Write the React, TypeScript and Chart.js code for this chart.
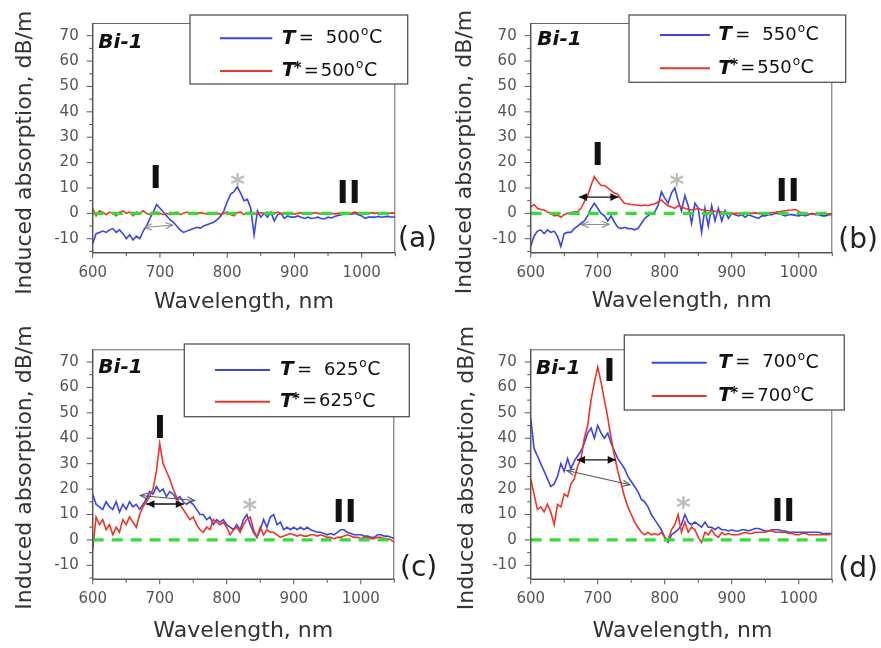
import React, { useEffect, useRef } from 'react';
import { Chart, registerables } from 'chart.js';

Chart.register(...registerables);

const FONT = "'DejaVu Sans', 'Liberation Sans', sans-serif";

// ---------------- DATA ----------------
const wavelengths = [
  600, 605, 610, 615, 620, 625, 630, 635, 640, 645,
  650, 655, 660, 665, 670, 675, 680, 685, 690, 695,
  700, 705, 710, 715, 720, 725, 730, 735, 740, 745,
  750, 755, 760, 765, 770, 775, 780, 785, 790, 795,
  800, 805, 810, 815, 820, 825, 830, 835, 840, 845,
  850, 855, 860, 865, 870, 875, 880, 885, 890, 895,
  900, 905, 910, 915, 920, 925, 930, 935, 940, 945,
  950, 955, 960, 965, 970, 975, 980, 985, 990, 995,
  1000, 1005, 1010, 1015, 1020, 1025, 1030, 1035, 1040, 1045,
  1050,
];

// (a) 500 °C
const panelA_T = [
  -12, -8, -7.5, -7, -7.5, -6.5, -6, -7.5, -6.5, -8,
  -10, -8.5, -10.5, -9, -10, -7, -5, -2, 0.5, 3.5,
  2, 0.5, -1, -2.5, -3.5, -5, -6.5, -7.5, -7, -6.5,
  -6, -5.5, -5.8, -5, -4.5, -4, -3.5, -2.5, -1.2, 1,
  4.5, 7.5, 8.5, 10.5, 8, 5, 5.5, 2, -8.5, 1,
  -1.5, 0, -1.5, 0.5, -3, -0.5, 0, -2, -1, -1.5,
  -1.5, -1, -1.5, -2, -1.5, -2, -1.8, -1.5, -2, -2.2,
  -1.5, -1.8, -1.2, -0.8, -0.5, -0.3, 0, -0.3, 0, -0.5,
  -1, -2, -1.5, -1.5, -1.5, -1.2, -1.5, -1.3, -1.2, -1.5,
  -1.3,
];
const panelA_Tstar = [
  2, -1, 1, 0.5, -0.5, 0.5, 0, -1, 0.5, 1,
  0, 0.5, -1, 0.5, 0, 1, 0, -0.5, 0, 0.5,
  0, -0.5, 0, -0.5, 0, 0.5, -0.5, 0, 0.5, 0,
  -0.3, 0, 0.3, 0, -0.2, 0, 0.3, 0, -0.3, 0,
  0.5, -0.5, -1, 0.3, 0.5, -0.5, 0, 0.5, 0, -0.5,
  0.3, 0, 0.5, -0.3, 0, 0.5, 0, -0.3, 0.3, 0,
  -0.3, 0, 0.3, 0, -0.2, 0, 0.3, 0, -0.3, 0,
  0.2, 0, -0.2, 0, 0.2, 0, -0.2, 0, 0.5, 0,
  -0.3, 0.3, 0, 0.3, 0, 0.2, 0, 0.2, 0, 0.2,
  0,
];

// (b) 550 °C
const panelB_T = [
  -13, -9, -7, -6.5, -8, -6.5, -7.5, -7, -9, -13,
  -8, -7.5, -7.5, -6, -5, -4, -3, -1, 2, 4,
  2, 0, -1, -3, -1, -3.5, -5.5, -6, -5.5, -6,
  -6, -6.5, -6, -4, -2, -1, 0, 0.5, 3, 8.5,
  6, 4, 8, 10, 5, 1, 7, 3, -4, 4,
  2, -7.5, 2, -5, 3, -3, 2, -3, 1, -2,
  0, -0.5, -1, -0.5, -1.5, -0.5, -1, -1.5, -2, -1,
  -1, -0.5, -0.5, 0, 0, -0.5, -1, -0.5, -0.5, -0.8,
  -1, -0.5, -1, -0.5, 0, -0.5, -0.5, -1, -1, -0.5,
  -0.5,
];
const panelB_Tstar = [
  2.5, 3.5, 2, 1.5, 1.3, 0.5, 0, -1, -0.7, -1.5,
  -0.5, 0, 0.3, 0.5, 0.7, 2, 4.5, 7, 11, 14.5,
  12.5, 11, 11, 10, 9, 8, 7.5, 5.5, 4, 3.8,
  3.5, 3.3, 3.3, 3, 3.3, 3, 3.5, 3.8, 4.5, 5.3,
  4, 3, 2.5, 2, 3, 2.5, 2, 1.5, 1.3, 1.5,
  2, 1.3, 1.3, 1, 1, 0.8, 0.6, 0.5, 0.4, 0.2,
  0, 0, 0, -0.2, 0, 0, 0, 0.2, 0, 0,
  0, 0.2, 0.3, 0.4, 0.6, 0.8, 1, 1.2, 1.3, 1.5,
  0.8, 0, -0.4, -0.3, -0.3, -0.3, -0.2, -0.3, -0.3, -0.2,
  -0.3,
];

// (c) 625 °C
const panelC_T = [
  18, 14, 13, 12, 15, 13, 12, 15, 11, 14,
  12, 15, 13, 14, 12, 14, 16, 19, 18, 21,
  19, 20, 17, 19, 18, 16, 17, 15, 14, 15,
  14, 12, 10, 10, 8, 9, 6, 8, 7, 8,
  6, 5, 4, 6, 4, 8, 10, 6, 3, 1,
  4, 8, 5, 9, 10, 6, 7, 4, 5, 4,
  5, 4, 5, 4, 5, 4, 3.5, 3, 3, 2.5,
  2, 2.5, 2, 3, 4, 4, 3, 2.5, 2, 2,
  2, 1.5, 1.5, 1, 1, 2, 2, 1.5, 1.5, 1,
  0.5,
];
const panelC_Tstar = [
  -4, 9, 6, 8, 4, 6, 2, 5, 3, 8,
  6, 9, 7, 5, 10, 13, 15, 17, 20, 27,
  38, 30, 27, 24, 20, 17, 14, 12, 10, 8,
  9, 6, 4, 3, 5, 4, 8, 7, 6, 7,
  5, 2, 4, 5, 3, 6, 8, 9, 4, 1,
  5, 2, 4, 3, 3, 2, 1, 1.5, 2, 2.5,
  2, 1.5, 2, 1.5, 1.5, 2, 2, 1.5, 2, 1.5,
  1, 1, 0.5, 1, 1, 1.5, 2, 1.5, 1, 1,
  0.5, 1, 1, 0.5, 0.5, 1, 1, 0.5, 0.5, 0,
  -1,
];

// (d) 700 °C
const panelD_T = [
  48, 36, 33, 30, 27, 24, 21, 22, 25, 30,
  27, 32, 28, 31, 33, 35, 38, 42, 44, 40,
  45, 42, 40, 42, 38, 35, 32, 30, 28, 25,
  23, 21, 19, 16, 15, 13, 10, 8, 6, 4,
  1, -1, 2, 3, 4, 6, 10, 7, 6, 7,
  6, 5, 7, 5, 5, 4, 5, 4, 4, 3.5,
  4, 3.5, 3.5, 4, 4, 3.5, 4, 4.5, 4.5, 4,
  3.5, 3.5, 4, 4, 4, 3.5, 3.5, 3, 3, 3,
  3, 3, 3, 3, 3, 3, 3, 2.5, 2.5, 2.5,
  2.5,
];
const panelD_Tstar = [
  24, 18, 12, 13, 11, 14, 11, 6, 14, 13,
  18, 17, 22, 24, 29, 32, 40, 45, 55, 62,
  68, 62, 55, 48, 40, 33, 27, 22, 17, 13,
  10, 7, 5, 3, 2, 3, 2, 2.5, 2, 3,
  1, 0, 4, 6, 10, 3, 7, 3, 5, 4,
  1, -1, 3, 2, 4, 2, 1, 3, 2, 2.5,
  2, 2, 2, 2.5, 3, 2.5, 2.5, 3, 3, 3,
  3, 3.5, 3.5, 3, 3, 3, 3, 2.5, 2.5, 2,
  2, 2.5, 2.5, 2, 2, 2, 2, 2, 2, 2,
  2.5,
];

const zeroLineX = [600, 1050];
const zeroLineY = [0, 0];

const temperatures = ['500', '550', '625', '700'];
const panelLetters = ['(a)', '(b)', '(c)', '(d)'];
const sampleName = 'Bi-1';
const xTitle = 'Wavelength, nm';
const yTitle = 'Induced absorption, dB/m';
const xTickLabels = [600, 700, 800, 900, 1000];
const yTickLabels = [-10, 0, 10, 20, 30, 40, 50, 60, 70];

// FWHM arrows [x1, y1, x2, y2, kind]
const arrowsA = [[677, -5.6, 719, -4.6, 'gray']];
const arrowsB = [[672, 6.4, 731, 6.4, 'black'], [676, -4.5, 717, -4.3, 'gray']];
const arrowsC = [[680, 14.1, 736, 14.1, 'black'], [671, 17.5, 752, 15.5, 'dark']];
const arrowsD = [[669, 31.5, 727, 31.5, 'black'], [654, 27.3, 748, 21.7, 'dark']];

// ---------------- STYLE / LAYOUT ----------------
const BLUE = '#3a45e8';
const RED = '#ec3526';
const GREEN = '#33dd33';

const layouts = [
  {
    left: 0, top: 0, w: 440, h: 320, area: [92.7, 22.7, 395.3, 252.7],
    legendBox: [190, 15, 407.7, 84], legendLine: [220, 272.3], legendRows: [38.3, 71], legendTextX: 281.7,
    bi: [98.3, 43], I: [155.8, 178.4], II: [348.7, 193.3], star: [237.5, 177.5], letter: [398, 240],
    xTitle: [244, 302], yTitle: [25.5, 152.7],
  },
  {
    left: 440, top: 0, w: 441, h: 320, area: [90.7, 22.7, 392.3, 252.7],
    legendBox: [189, 15, 405.7, 82.3], legendLine: [220, 270], legendRows: [35, 68.3], legendTextX: 278.3,
    bi: [97.3, 40], I: [157.8, 155.8], II: [347.7, 191.7], star: [236.7, 177.5], letter: [398.3, 240.8],
    xTitle: [241.7, 300.8], yTitle: [25.5, 152],
  },
  {
    left: 0, top: 320, w: 440, h: 328, area: [92.7, 29.3, 394.3, 259.3],
    legendBox: [184.3, 24, 409.3, 96.7], legendLine: [215, 270], legendRows: [50, 81.7], legendTextX: 280,
    bi: [98.3, 47.5], I: [160, 108.3], II: [344.7, 192.5], star: [249.7, 182.5], letter: [400, 249],
    xTitle: [243.3, 310.8], yTitle: [25, 147.5],
  },
  {
    left: 440, top: 320, w: 441, h: 328, area: [90.7, 29.3, 392.3, 259.3],
    legendBox: [184.3, 15, 404.3, 90], legendLine: [211.7, 266.7], legendRows: [42.7, 76], legendTextX: 278.3,
    bi: [96, 48.3], I: [169.5, 51.7], II: [343.3, 191.7], star: [243.3, 180.8], letter: [398.3, 250],
    xTitle: [242.5, 310.8], yTitle: [27, 148],
  },
];

const panelData = [
  { blue: panelA_T, red: panelA_Tstar, arrows: arrowsA },
  { blue: panelB_T, red: panelB_Tstar, arrows: arrowsB },
  { blue: panelC_T, red: panelC_Tstar, arrows: arrowsC },
  { blue: panelD_T, red: panelD_Tstar, arrows: arrowsD },
];

function drawArrow(ctx: CanvasRenderingContext2D, x1: number, y1: number, x2: number, y2: number, kind: string) {
  const color = kind === 'black' ? '#111' : kind === 'dark' ? '#555' : '#8a8a8a';
  ctx.save();
  ctx.strokeStyle = color;
  ctx.fillStyle = color;
  ctx.lineWidth = kind === 'black' ? 1.4 : 1.1;
  ctx.beginPath();
  ctx.moveTo(x1, y1);
  ctx.lineTo(x2, y2);
  ctx.stroke();
  const ang = Math.atan2(y2 - y1, x2 - x1);
  const head = (x: number, y: number, a: number) => {
    const len = kind === 'black' ? 9 : 8;
    const spread = kind === 'black' ? 0.45 : 0.4;
    const ax = x - len * Math.cos(a - spread), ay = y - len * Math.sin(a - spread);
    const bx = x - len * Math.cos(a + spread), by = y - len * Math.sin(a + spread);
    ctx.beginPath();
    if (kind === 'black') {
      ctx.moveTo(x, y); ctx.lineTo(ax, ay); ctx.lineTo(bx, by); ctx.closePath(); ctx.fill();
    } else {
      ctx.moveTo(ax, ay); ctx.lineTo(x, y); ctx.lineTo(bx, by); ctx.stroke();
    }
  };
  head(x2, y2, ang);
  head(x1, y1, ang + Math.PI);
  ctx.restore();
}

function makeDecor(idx: number) {
  const L = layouts[idx];
  const D = panelData[idx];
  return {
    id: 'decor' + idx,
    afterDatasetsDraw(chart: any) {
      const ctx: CanvasRenderingContext2D = chart.ctx;
      const { left, right, top, bottom } = chart.chartArea;
      const xs = chart.scales.x, ys = chart.scales.y;
      ctx.save();
      // frame (top, right)
      ctx.strokeStyle = '#666';
      ctx.lineWidth = 1;
      ctx.beginPath();
      ctx.moveTo(left, top + 0.5); ctx.lineTo(right, top + 0.5);
      ctx.moveTo(right - 0.5, top); ctx.lineTo(right - 0.5, bottom);
      ctx.stroke();
      // axes
      ctx.strokeStyle = '#555';
      ctx.lineWidth = 1.5;
      ctx.beginPath();
      ctx.moveTo(left, top); ctx.lineTo(left, bottom);
      ctx.moveTo(left, bottom); ctx.lineTo(right, bottom);
      ctx.stroke();
      // ticks
      ctx.lineWidth = 1;
      ctx.beginPath();
      for (let v = -15; v <= 70; v += 5) {
        const y = ys.getPixelForValue(v);
        const len = v % 10 === 0 ? 6 : 3.5;
        ctx.moveTo(left - len, y); ctx.lineTo(left, y);
      }
      for (let v = 600; v <= 1050; v += 50) {
        const x = xs.getPixelForValue(v);
        const len = v % 100 === 0 ? 5 : 3.5;
        ctx.moveTo(x, bottom); ctx.lineTo(x, bottom + len);
      }
      ctx.stroke();
      // arrows
      for (const a of D.arrows as any[]) {
        drawArrow(ctx, xs.getPixelForValue(a[0]), ys.getPixelForValue(a[1]), xs.getPixelForValue(a[2]), ys.getPixelForValue(a[3]), a[4]);
      }
      // labels
      ctx.textBaseline = 'middle';
      ctx.textAlign = 'left';
      ctx.fillStyle = '#111';
      ctx.font = `italic bold 20px ${FONT}`;
      ctx.fillText(sampleName, L.bi[0], L.bi[1]);
      ctx.textAlign = 'center';
      ctx.font = `bold 32px ${FONT}`;
      ctx.fillText('I', L.I[0], L.I[1] + 1);
      ctx.fillText('II', L.II[0], L.II[1] + 1);
      ctx.fillStyle = '#bdbdbd';
      ctx.font = `bold 28px ${FONT}`;
      ctx.textBaseline = 'alphabetic';
      ctx.fillText('*', L.star[0], L.star[1] + 16);
      ctx.textBaseline = 'middle';
      ctx.fillStyle = '#222';
      ctx.textAlign = 'left';
      ctx.font = `28px ${FONT}`;
      ctx.fillText(panelLetters[idx], L.letter[0], L.letter[1]);
      // axis titles
      ctx.fillStyle = '#333';
      ctx.font = `22px ${FONT}`;
      ctx.textAlign = 'center';
      ctx.fillText(xTitle, L.xTitle[0], L.xTitle[1]);
      ctx.save();
      ctx.translate(L.yTitle[0], L.yTitle[1]);
      ctx.rotate(-Math.PI / 2);
      ctx.fillText(yTitle, 0, 0);
      ctx.restore();
      // legend
      const [bx1, by1, bx2, by2] = L.legendBox;
      ctx.fillStyle = '#fff';
      ctx.fillRect(bx1, by1, bx2 - bx1, by2 - by1);
      ctx.strokeStyle = '#555';
      ctx.lineWidth = 1.3;
      ctx.strokeRect(bx1, by1, bx2 - bx1, by2 - by1);
      const rows = [{ color: BLUE, star: false }, { color: RED, star: true }];
      rows.forEach((r, i) => {
        const y = L.legendRows[i];
        ctx.strokeStyle = r.color;
        ctx.lineWidth = 2;
        ctx.beginPath();
        ctx.moveTo(L.legendLine[0], y); ctx.lineTo(L.legendLine[1], y);
        ctx.stroke();
        const tx = L.legendTextX;
        ctx.fillStyle = '#111';
        ctx.textAlign = 'left';
        ctx.textBaseline = 'middle';
        ctx.font = `italic bold 20px ${FONT}`;
        ctx.fillText('T', tx, y);
        if (r.star) {
          ctx.font = `bold 15px ${FONT}`;
          ctx.fillText('*', tx + 12, y - 2);
        }
        ctx.font = `18px ${FONT}`;
        ctx.fillText('=', tx + (r.star ? 22 : 17), y);
        const nx = tx + (r.star ? 39 : 44);
        ctx.fillText(temperatures[idx], nx, y);
        const w = ctx.measureText(temperatures[idx]).width;
        ctx.font = `12px ${FONT}`;
        ctx.fillText('o', nx + w + 1, y - 6);
        const w2 = ctx.measureText('o').width;
        ctx.font = `19px ${FONT}`;
        ctx.fillText('C', nx + w + w2 + 1.5, y);
      });
      ctx.restore();
    },
  };
}

function makeConfig(idx: number): any {
  const L = layouts[idx];
  const D = panelData[idx];
  const [al, at, ar, ab] = L.area;
  const yAxisW = 60;
  const xAxisH = 40;
  return {
    type: 'line',
    data: {
      datasets: [
        {
          label: 'zero',
          data: zeroLineX.map((x, i) => ({ x, y: zeroLineY[i] })),
          borderColor: GREEN, borderWidth: 3.2, borderDash: [11, 8], order: 0,
        },
        {
          label: 'T* = ' + temperatures[idx] + '°C',
          data: wavelengths.map((x, i) => ({ x, y: D.red[i] })),
          borderColor: RED, borderWidth: 1.6, order: 1,
        },
        {
          label: 'T = ' + temperatures[idx] + '°C',
          data: wavelengths.map((x, i) => ({ x, y: D.blue[i] })),
          borderColor: BLUE, borderWidth: 1.6, order: 2,
        },
      ],
    },
    options: {
      animation: false,
      responsive: false,
      maintainAspectRatio: false,
      elements: { point: { radius: 0 }, line: { tension: 0 } },
      layout: { padding: { left: al - yAxisW, top: at, right: L.w - ar, bottom: L.h - ab - xAxisH } },
      plugins: { legend: { display: false }, tooltip: { enabled: false } },
      scales: {
        x: {
          type: 'linear', min: 600, max: 1050,
          grid: { display: false, drawTicks: false }, border: { display: false },
          ticks: {
            padding: 11, color: '#555', font: { family: FONT, size: 15 }, maxRotation: 0, autoSkip: false,
            callback: (v: any) => String(v),
          },
          afterBuildTicks: (s: any) => { s.ticks = xTickLabels.map((v) => ({ value: v })); },
          afterFit: (s: any) => { s.height = xAxisH; },
        },
        y: {
          type: 'linear', min: -15.5, max: 75,
          grid: { display: false, drawTicks: false }, border: { display: false },
          ticks: {
            padding: 14, color: '#555', font: { family: FONT, size: 15 }, autoSkip: false,
            callback: (v: any) => String(v),
          },
          afterBuildTicks: (s: any) => { s.ticks = yTickLabels.map((v) => ({ value: v })); },
          afterFit: (s: any) => { s.width = yAxisW; },
        },
      },
    },
    plugins: [makeDecor(idx)],
  };
}

function Panel({ idx }: { idx: number }) {
  const ref = useRef<HTMLCanvasElement>(null);
  useEffect(() => {
    if (!ref.current) return;
    const chart = new Chart(ref.current, makeConfig(idx));
    return () => chart.destroy();
  }, [idx]);
  const L = layouts[idx];
  return (
    <div style={{ position: 'absolute', left: L.left, top: L.top, width: L.w, height: L.h }}>
      <canvas ref={ref} width={L.w} height={L.h} style={{ display: 'block' }} />
    </div>
  );
}

export default function App() {
  return (
    <div style={{ position: 'fixed', left: 0, top: 0, width: 881, height: 648, background: '#fff', overflow: 'hidden' }}>
      {[0, 1, 2, 3].map((i) => <Panel key={i} idx={i} />)}
    </div>
  );
}
